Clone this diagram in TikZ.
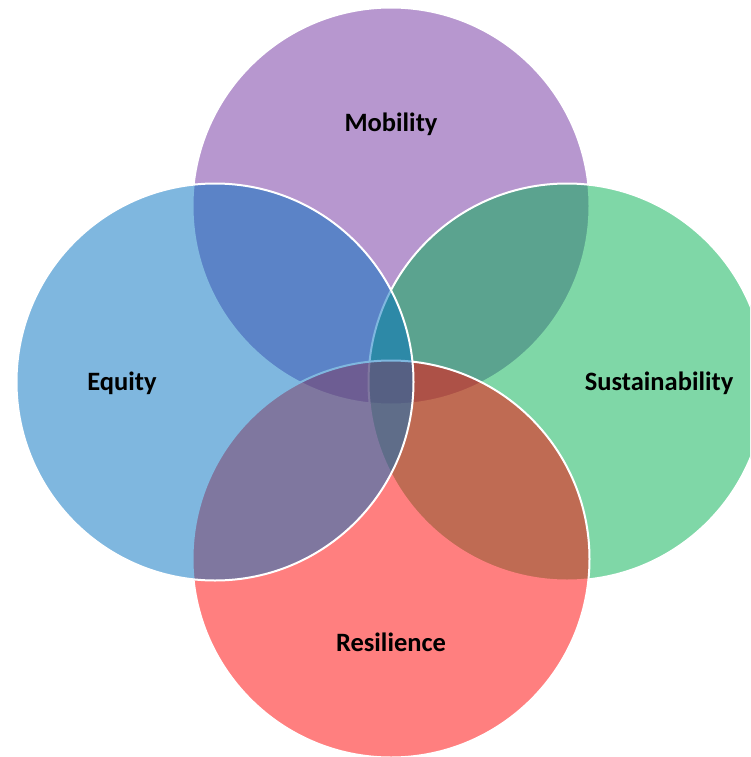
\documentclass[tikz,border=0pt]{standalone}
\usepackage{fontspec}
\setmainfont{Carlito}
\definecolor{cMob}{HTML}{7030A0}
\definecolor{cEq}{HTML}{0070C0}
\definecolor{cSus}{HTML}{00B050}
\definecolor{cRes}{HTML}{FF0000}
\begin{document}
\begin{tikzpicture}[x=1pt,y=-1pt,
  ring/.style={circle, minimum size=397pt, inner sep=0pt, draw=white, line width=2pt, fill opacity=0.5},
  lbl/.style={font=\bfseries\fontsize{26.5}{30}\selectfont, text=black}]
\clip (0,0) rectangle (750,757);
\fill[white] (0,0) rectangle (750,757);
\node[ring, fill=cMob] (mob) at (391,206) {};
\node[ring, fill=cSus] (sus) at (567,382) {};
\node[ring, fill=cRes] (res) at (391,559) {};
\node[ring, fill=cEq]  (eq)  at (215,382) {};
\node[lbl] (tmob) at (391,124) {Mobility};
\node[lbl] (teq)  at (122,383) {Equity};
\node[lbl] (tsus) at (659,383) {Sustainability};
\node[lbl] (tres) at (391,642) {Resilience};
\end{tikzpicture}
\end{document}
